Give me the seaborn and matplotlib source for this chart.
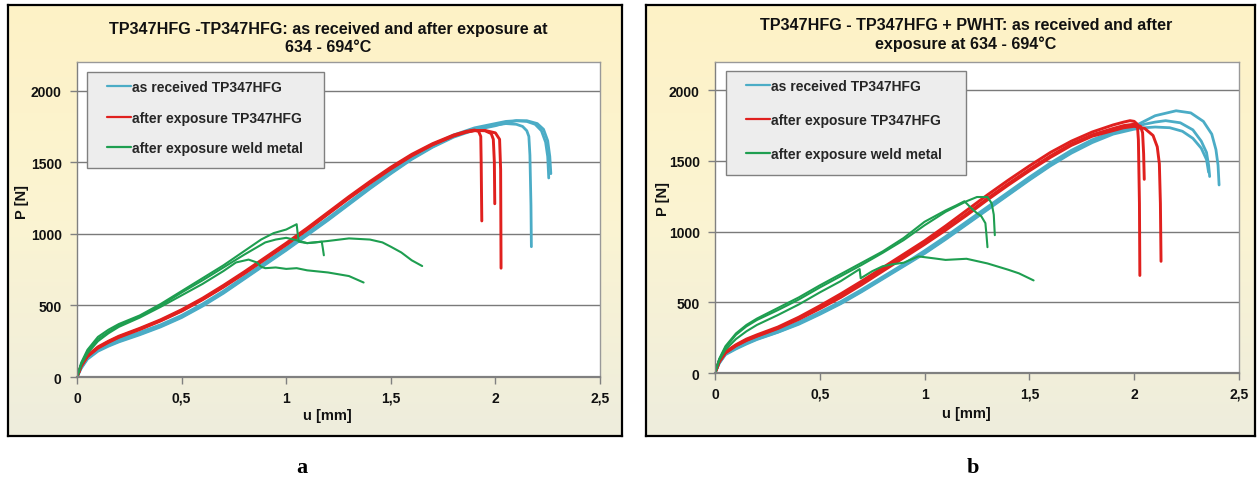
import numpy as np
import pandas as pd
import matplotlib
matplotlib.use("Agg")
import matplotlib.pyplot as plt
import seaborn as sns
from matplotlib.lines import Line2D
from matplotlib.patches import Rectangle
from matplotlib.colors import LinearSegmentedColormap

# ---------------- data ----------------
SERIES = ["as received TP347HFG", "after exposure TP347HFG", "after exposure weld metal"]
COLORS = ["#4BACC6", "#E0201E", "#1E9E50"]

X_TICKS = [0, 0.5, 1, 1.5, 2, 2.5]
X_TICK_LABELS = ["0", "0,5", "1", "1,5", "2", "2,5"]
Y_TICKS = [0, 500, 1000, 1500, 2000]
Y_TICK_LABELS = ["0", "500", "1000", "1500", "2000"]

TITLE_A = "TP347HFG -TP347HFG: as received and after exposure at\n634 - 694°C"
TITLE_B = "TP347HFG - TP347HFG + PWHT: as received and after\nexposure at 634 - 694°C"

# ---- panel a ----
a_blue1_u = [0, 0.02, 0.05, 0.1, 0.15, 0.2, 0.3, 0.4, 0.5, 0.6, 0.7, 0.8, 0.9, 1.0, 1.1, 1.2, 1.3, 1.4, 1.5, 1.6, 1.7, 1.8, 1.9, 2.0,
             2.05, 2.1, 2.13, 2.15, 2.16, 2.165, 2.17, 2.172]
a_blue1_p = [0, 65, 130, 185, 220, 250, 300, 355, 420, 500, 590, 690, 790, 890, 995, 1100, 1210, 1320, 1425, 1525, 1610, 1680, 1730, 1760,
             1770, 1765, 1750, 1720, 1680, 1550, 1200, 910]
a_blue2_u = [0, 0.02, 0.05, 0.1, 0.15, 0.2, 0.3, 0.4, 0.5, 0.6, 0.7, 0.8, 0.9, 1.0, 1.1, 1.2, 1.3, 1.4, 1.5, 1.6, 1.7, 1.8, 1.9, 2.0,
             2.05, 2.1, 2.15, 2.19, 2.22, 2.24, 2.25, 2.255]
a_blue2_p = [0, 70, 140, 195, 232, 262, 312, 365, 430, 510, 600, 700, 800, 900, 1005, 1110, 1220, 1330, 1435, 1535, 1620, 1690, 1740, 1770,
             1785, 1790, 1785, 1765, 1720, 1640, 1540, 1390]
a_blue3_u = [0, 0.02, 0.05, 0.1, 0.15, 0.2, 0.3, 0.4, 0.5, 0.6, 0.7, 0.8, 0.9, 1.0, 1.1, 1.2, 1.3, 1.4, 1.5, 1.6, 1.7, 1.8, 1.9, 2.0,
             2.05, 2.1, 2.15, 2.2, 2.23, 2.25, 2.26, 2.265]
a_blue3_p = [0, 60, 125, 180, 215, 245, 295, 350, 415, 495, 585, 685, 785, 885, 990, 1095, 1205, 1315, 1420, 1520, 1605, 1675, 1725, 1755,
             1775, 1790, 1790, 1770, 1730, 1650, 1540, 1420]

a_red1_u = [0, 0.02, 0.05, 0.1, 0.15, 0.2, 0.3, 0.4, 0.5, 0.6, 0.7, 0.8, 0.9, 1.0, 1.1, 1.2, 1.3, 1.4, 1.5, 1.6, 1.7, 1.8, 1.86,
            1.9, 1.92, 1.93, 1.932, 1.935]
a_red1_p = [0, 80, 150, 210, 250, 285, 340, 400, 470, 550, 640, 735, 835, 935, 1040, 1150, 1260, 1365, 1465, 1555, 1630, 1690, 1715,
            1725, 1715, 1680, 1500, 1090]
a_red2_u = [0, 0.02, 0.05, 0.1, 0.15, 0.2, 0.3, 0.4, 0.5, 0.6, 0.7, 0.8, 0.9, 1.0, 1.1, 1.2, 1.3, 1.4, 1.5, 1.6, 1.7, 1.8, 1.86,
            1.9, 1.95, 1.98, 1.99, 1.995, 1.997]
a_red2_p = [0, 78, 146, 205, 245, 280, 335, 395, 463, 543, 632, 727, 827, 927, 1032, 1142, 1252, 1357, 1457, 1548, 1624, 1685, 1712,
            1722, 1720, 1700, 1660, 1500, 1210]
a_red3_u = [0, 0.02, 0.05, 0.1, 0.15, 0.2, 0.3, 0.4, 0.5, 0.6, 0.7, 0.8, 0.9, 1.0, 1.1, 1.2, 1.3, 1.4, 1.5, 1.6, 1.7, 1.8, 1.86,
            1.9, 1.95, 2.0, 2.02, 2.025, 2.027]
a_red3_p = [0, 76, 143, 202, 242, 277, 332, 392, 460, 540, 628, 723, 823, 923, 1028, 1138, 1248, 1353, 1453, 1545, 1622, 1683, 1710,
            1720, 1722, 1705, 1660, 1450, 760]

a_green1_u = [0, 0.02, 0.05, 0.1, 0.15, 0.2, 0.3, 0.4, 0.5, 0.6, 0.7, 0.8, 0.88, 0.94, 1.0, 1.05, 1.055, 1.06, 1.1, 1.14, 1.17, 1.175, 1.18]
a_green1_p = [0, 100, 190, 280, 330, 370, 430, 510, 600, 690, 780, 880, 960, 1005, 1030, 1067, 1000, 945, 935, 940, 945, 900, 850]
a_green2_u = [0, 0.02, 0.05, 0.1, 0.15, 0.2, 0.3, 0.4, 0.5, 0.6, 0.7, 0.8, 0.9, 0.95, 1.0, 1.05, 1.1, 1.2, 1.3, 1.4, 1.46, 1.5, 1.55, 1.6, 1.65]
a_green2_p = [0, 90, 175, 265, 315, 360, 425, 500, 590, 675, 765, 855, 940, 960, 972, 955, 935, 950, 968, 960, 940, 910, 870, 815, 775]
a_green3_u = [0, 0.02, 0.05, 0.1, 0.15, 0.2, 0.3, 0.4, 0.5, 0.6, 0.7, 0.76, 0.82, 0.86, 0.88, 0.9, 0.95, 1.0, 1.05, 1.1, 1.2, 1.3, 1.37]
a_green3_p = [0, 85, 165, 250, 305, 350, 415, 490, 570, 650, 740, 800, 820, 800, 770, 760, 765, 755, 760, 745, 730, 705, 660]

# ---- panel b ----
b_blue1_u = [0, 0.02, 0.05, 0.1, 0.15, 0.2, 0.3, 0.4, 0.5, 0.6, 0.7, 0.8, 0.9, 1.0, 1.1, 1.2, 1.3, 1.4, 1.5, 1.6, 1.7, 1.8, 1.9, 2.0,
             2.1, 2.2, 2.27, 2.33, 2.37, 2.39, 2.4, 2.405]
b_blue1_p = [0, 70, 135, 175, 210, 240, 290, 350, 420, 495, 580, 670, 760, 850, 950, 1055, 1160, 1265, 1370, 1470, 1560, 1640, 1700, 1745,
             1820, 1855, 1840, 1780, 1690, 1580, 1470, 1330]
b_blue2_u = [0, 0.02, 0.05, 0.1, 0.15, 0.2, 0.3, 0.4, 0.5, 0.6, 0.7, 0.8, 0.9, 1.0, 1.1, 1.2, 1.3, 1.4, 1.5, 1.6, 1.7, 1.8, 1.9, 2.0,
             2.05, 2.1, 2.15, 2.22, 2.28, 2.32, 2.345, 2.355, 2.36]
b_blue2_p = [0, 72, 140, 180, 215, 245, 298, 360, 430, 505, 590, 680, 770, 865, 965, 1070, 1175, 1280, 1385, 1485, 1575, 1650, 1705, 1740,
             1760, 1775, 1785, 1770, 1720, 1640, 1560, 1470, 1390]
b_blue3_u = [0, 0.02, 0.05, 0.1, 0.15, 0.2, 0.3, 0.4, 0.5, 0.6, 0.7, 0.8, 0.9, 1.0, 1.1, 1.2, 1.3, 1.4, 1.5, 1.6, 1.7, 1.8, 1.9, 2.0,
             2.05, 2.1, 2.17, 2.23, 2.28, 2.32, 2.345, 2.355]
b_blue3_p = [0, 68, 130, 170, 205, 237, 288, 345, 415, 490, 575, 665, 755, 845, 945, 1050, 1155, 1260, 1365, 1465, 1555, 1630, 1690, 1725,
             1735, 1740, 1735, 1710, 1660, 1590, 1510, 1420]

b_red1_u = [0, 0.02, 0.05, 0.1, 0.15, 0.2, 0.3, 0.4, 0.5, 0.6, 0.7, 0.8, 0.9, 1.0, 1.1, 1.2, 1.3, 1.4, 1.5, 1.6, 1.7, 1.8, 1.9,
            1.95, 1.98, 2.0, 2.015, 2.02, 2.025, 2.027]
b_red1_p = [0, 85, 150, 200, 240, 270, 325, 395, 475, 560, 650, 745, 840, 935, 1040, 1150, 1260, 1365, 1465, 1560, 1640, 1705, 1755,
            1775, 1785, 1780, 1760, 1650, 1200, 690]
b_red2_u = [0, 0.02, 0.05, 0.1, 0.15, 0.2, 0.3, 0.4, 0.5, 0.6, 0.7, 0.8, 0.9, 1.0, 1.1, 1.2, 1.3, 1.4, 1.5, 1.6, 1.7, 1.8, 1.9,
            1.95, 2.0, 2.03, 2.04, 2.045, 2.048]
b_red2_p = [0, 80, 145, 195, 233, 263, 318, 385, 462, 545, 635, 730, 825, 920, 1020, 1125, 1235, 1340, 1440, 1535, 1620, 1685, 1730,
            1750, 1760, 1745, 1700, 1550, 1370]
b_red3_u = [0, 0.02, 0.05, 0.1, 0.15, 0.2, 0.3, 0.4, 0.5, 0.6, 0.7, 0.8, 0.9, 1.0, 1.1, 1.2, 1.3, 1.4, 1.5, 1.6, 1.7, 1.8, 1.9,
            1.95, 2.0, 2.05, 2.09, 2.11, 2.12, 2.125, 2.128]
b_red3_p = [0, 78, 142, 192, 230, 260, 315, 380, 455, 535, 625, 720, 815, 910, 1010, 1115, 1225, 1330, 1430, 1525, 1610, 1675, 1715,
            1735, 1745, 1730, 1680, 1600, 1480, 1200, 790]

b_green1_u = [0, 0.02, 0.05, 0.1, 0.15, 0.2, 0.3, 0.4, 0.5, 0.6, 0.7, 0.8, 0.9, 1.0, 1.1, 1.15, 1.19, 1.22, 1.25, 1.27, 1.29, 1.295, 1.3]
b_green1_p = [0, 100, 190, 280, 340, 385, 460, 535, 620, 700, 780, 860, 955, 1070, 1150, 1185, 1215, 1170, 1130, 1110, 1060, 980, 890]
b_green2_u = [0, 0.02, 0.05, 0.1, 0.15, 0.2, 0.3, 0.4, 0.5, 0.6, 0.7, 0.8, 0.9, 1.0, 1.1, 1.2, 1.25, 1.3, 1.32, 1.33, 1.335]
b_green2_p = [0, 95, 180, 270, 330, 375, 445, 520, 605, 685, 765, 850, 940, 1045, 1140, 1215, 1245, 1245, 1200, 1120, 975]
b_green3_u = [0, 0.02, 0.05, 0.1, 0.15, 0.2, 0.3, 0.4, 0.5, 0.6, 0.69, 0.695, 0.75, 0.8, 0.85, 0.9, 0.97, 1.05, 1.1, 1.2, 1.3, 1.4, 1.45, 1.52]
b_green3_p = [0, 90, 165, 240, 295, 340, 410, 485, 570, 650, 735, 670, 720, 755, 770, 780, 825, 810, 800, 808, 775, 730, 705, 655]

PANEL_A = [
    (SERIES[0], [(a_blue1_u, a_blue1_p), (a_blue2_u, a_blue2_p), (a_blue3_u, a_blue3_p)]),
    (SERIES[1], [(a_red1_u, a_red1_p), (a_red2_u, a_red2_p), (a_red3_u, a_red3_p)]),
    (SERIES[2], [(a_green1_u, a_green1_p), (a_green2_u, a_green2_p), (a_green3_u, a_green3_p)]),
]
PANEL_B = [
    (SERIES[0], [(b_blue1_u, b_blue1_p), (b_blue2_u, b_blue2_p), (b_blue3_u, b_blue3_p)]),
    (SERIES[1], [(b_red1_u, b_red1_p), (b_red2_u, b_red2_p), (b_red3_u, b_red3_p)]),
    (SERIES[2], [(b_green1_u, b_green1_p), (b_green2_u, b_green2_p), (b_green3_u, b_green3_p)]),
]


def to_frame(panel):
    rows = []
    for name, curves in panel:
        for k, (u, p) in enumerate(curves):
            for i, (x, y) in enumerate(zip(u, p)):
                rows.append({"u": x, "P": y, "series": name, "specimen": f"{name}-{k}", "order": i})
    return pd.DataFrame(rows)


# ---------------- figure ----------------
sns.set_theme(style="white")
plt.rcParams['font.family'] = ['Liberation Sans', 'DejaVu Sans']

W, H = 1258, 481
fig = plt.figure(figsize=(W / 100, H / 100), dpi=100)
fig.patch.set_facecolor("white")


def fx(x):
    return x / W


def fy(y):
    return 1 - y / H


def rect(x0, y0, x1, y1):
    return [fx(x0), fy(y1), fx(x1) - fx(x0), fy(y0) - fy(y1)]


bg_cmap = LinearSegmentedColormap.from_list("bg", ["#FEF2C6", "#FBF4D2", "#EEEDDD"])

LW = {SERIES[0]: 2.0, SERIES[1]: 2.1, SERIES[2]: 1.5}

panels = [
    dict(data=PANEL_A, title=TITLE_A, frame=(8, 6, 622, 437), plot=(77, 63, 600, 378),
         title_xy=(328, 38.5), xlabel_xy=(327, 416), ylabel_xy=(22, 202),
         legend_box=(87, 73, 324, 169), legend_anchor=(107, 81), labelspacing=1.2, sub="a", sub_xy=(302, 468)),
    dict(data=PANEL_B, title=TITLE_B, frame=(646, 6, 1255, 437), plot=(715, 63, 1239, 374),
         title_xy=(966, 35), xlabel_xy=(966, 414), ylabel_xy=(663, 199),
         legend_box=(726, 72, 966, 176), legend_anchor=(746, 80), labelspacing=1.45, sub="b", sub_xy=(973, 468)),
]

for pn in panels:
    # framed, gradient background
    bax = fig.add_axes(rect(*pn["frame"]))
    grad = np.linspace(0, 1, 256).reshape(-1, 1)
    bax.imshow(grad, aspect="auto", cmap=bg_cmap, extent=[0, 1, 0, 1], origin="upper")
    bax.set_xticks([])
    bax.set_yticks([])
    for s in bax.spines.values():
        s.set_color("black")
        s.set_linewidth(1.6)
        s.set_visible(True)
    bax.set_zorder(0)

    x0, y0, x1, y1 = pn["plot"]
    ax = fig.add_axes(rect(x0, y0, x1, y1))
    ax.set_zorder(1)
    ax.set_facecolor("white")

    df = to_frame(pn["data"])
    for name, col in zip(SERIES, COLORS):
        sub = df[df["series"] == name]
        sns.lineplot(data=sub, x="u", y="P", units="specimen", estimator=None, sort=False,
                     color=col, linewidth=LW[name], ax=ax, legend=False)

    ax.set_xlim(0, 2.5)
    ax.set_ylim(0, 2200)
    ax.set_xticks(X_TICKS)
    ax.set_xticklabels(X_TICK_LABELS, fontweight="bold", fontsize=10, color="#111111")
    ax.set_yticks(Y_TICKS)
    ax.set_yticklabels(Y_TICK_LABELS, fontweight="bold", fontsize=10, color="#111111")
    ax.tick_params(axis="both", direction="out", length=5, width=1, color="#808080", bottom=True, left=True)
    ax.tick_params(axis="y", pad=6)
    ax.tick_params(axis="x", pad=5)
    ax.yaxis.grid(True, color="#7a7a7a", linewidth=1.0)
    ax.xaxis.grid(False)
    ax.set_axisbelow(True)
    ax.set_xlabel("")
    ax.set_ylabel("")
    for side, s in ax.spines.items():
        s.set_visible(True)
        s.set_color("#999999")
        s.set_linewidth(1.0)
    ax.spines["bottom"].set_color("#808080")
    ax.spines["bottom"].set_linewidth(1.6)
    ax.spines["left"].set_color("#808080")

    # legend box
    pw, ph = x1 - x0, y1 - y0
    lx0, ly0, lx1, ly1 = pn["legend_box"]
    ax.add_patch(Rectangle(((lx0 - x0) / pw, (y1 - ly1) / ph), (lx1 - lx0) / pw, (ly1 - ly0) / ph,
                           transform=ax.transAxes, facecolor="#EDEDED", edgecolor="#808080",
                           linewidth=1.0, zorder=4, clip_on=False))
    handles = [Line2D([0], [0], color=c, lw=1.6) for c in COLORS]
    ax_anchor = ((pn["legend_anchor"][0] - x0) / pw, (y1 - pn["legend_anchor"][1]) / ph)
    leg = ax.legend(handles, SERIES, loc="upper left", bbox_to_anchor=ax_anchor, frameon=False,
                    borderpad=0, borderaxespad=0, handlelength=1.75, handletextpad=0.05,
                    labelspacing=pn["labelspacing"], prop={"weight": "bold", "size": 10})
    leg.set_zorder(5)

    # texts
    fig.text(fx(pn["title_xy"][0]), fy(pn["title_xy"][1]), pn["title"], ha="center", va="center",
             fontsize=11.6, fontweight="bold", linespacing=1.25, color="#111111", zorder=3)
    fig.text(fx(pn["xlabel_xy"][0]), fy(pn["xlabel_xy"][1]), "u [mm]", ha="center", va="center",
             fontsize=10.5, fontweight="bold", color="#111111", zorder=3)
    fig.text(fx(pn["ylabel_xy"][0]), fy(pn["ylabel_xy"][1]), "P [N]", ha="center", va="center",
             rotation=90, fontsize=10.5, fontweight="bold", color="#111111", zorder=3)
    fig.text(fx(pn["sub_xy"][0]), fy(pn["sub_xy"][1]), pn["sub"], ha="center", va="center",
             fontsize=16, fontweight="bold", family=["Liberation Serif", "DejaVu Serif"], color="black")

fig.savefig("out.png", dpi=100, facecolor="white")
